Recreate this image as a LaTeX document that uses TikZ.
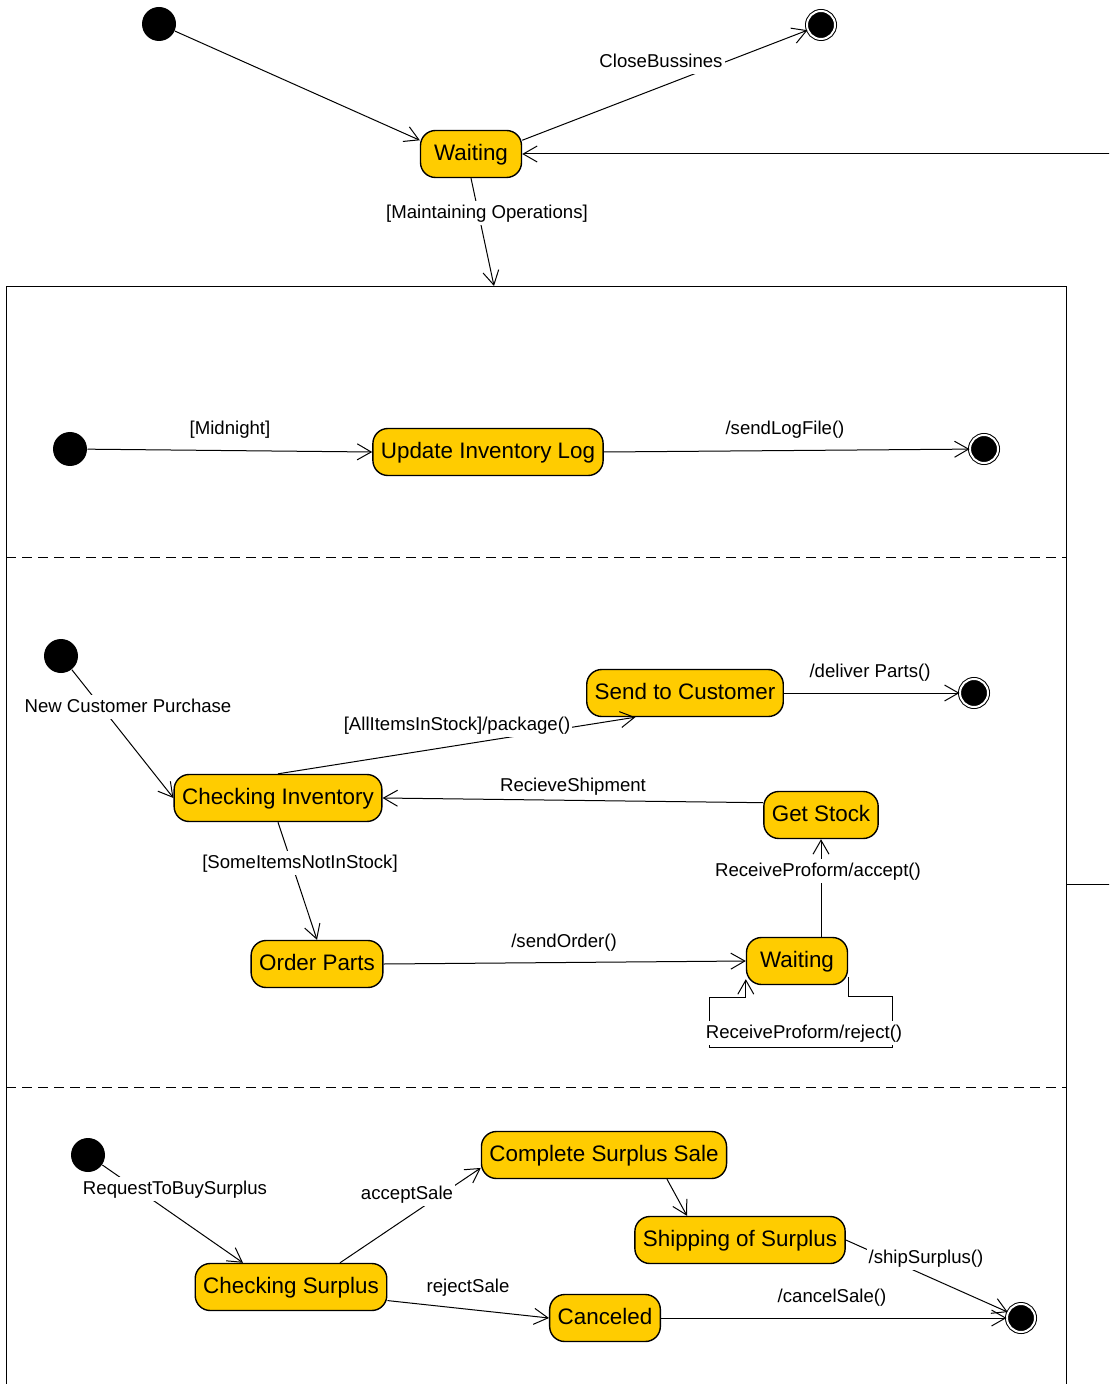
\documentclass[tikz,border=0pt]{standalone}
\usepackage{fontspec}
\setmainfont{Liberation Sans}
\usetikzlibrary{arrows.meta}
\definecolor{stateyellow}{RGB}{255,204,0}

\begin{document}
\begin{tikzpicture}[x=0.5pt,y=-0.5pt,>={Straight Barb[length=7pt,width=8pt]},
                    line width=0.5pt]
  \tikzstyle{stbox}=[draw=black,fill=stateyellow,rounded corners=7.5pt,line width=0.7pt,
                     minimum width=50.5pt,minimum height=23.5pt,inner xsep=4pt,
                     text height=.7em,text depth=.02em,
                     font=\fontsize{11.2}{13}\selectfont]
  \tikzstyle{startdot}=[circle,fill=black,minimum size=17pt,inner sep=0pt]
  \tikzstyle{enddot}=[circle,draw=black,fill=black,double=white,double distance=1pt,
                      minimum size=14pt,inner sep=0pt]
  \tikzstyle{lbl}=[fill=white,inner sep=1pt,text height=1.5ex,text depth=.4ex,yshift=-1pt,
                   font=\fontsize{9.3}{11}\selectfont]
  \tikzstyle{tr}=[->]

  \clip (0,0) rectangle (1109,1384);

  % composite state and its regions
  \node[draw=black,line width=0.7pt,anchor=north west,minimum width=530pt,
        minimum height=570pt,inner sep=0pt] (cbox) at (6,286) {};
  \draw[dash pattern=on 5pt off 3pt] (6,557)  -- (1066,557);
  \draw[dash pattern=on 5pt off 3pt] (6,1087) -- (1066,1087);
  \coordinate (cin)   at (494,286);
  \coordinate (cexit) at (1066,884);

  % top level
  \node[startdot]       (init0)     at (159,24)     {};
  \node[enddot]         (fin0)      at (821,25)     {};
  \node[stbox]          (waitTop)   at (471,154)    {Waiting};

  % region 1
  \node[startdot]       (init1)     at (70,449)     {};
  \node[stbox]          (updLog)    at (488,452)    {Update Inventory Log};
  \node[enddot]         (fin1)      at (984,449)    {};

  % region 2
  \node[startdot]       (init2)     at (61,656)     {};
  \node[stbox]          (chkInv)    at (278,798)    {Checking Inventory};
  \node[stbox]          (sendCust)  at (685,693)    {Send to Customer};
  \node[enddot]         (fin2)      at (974,693)    {};
  \node[stbox]          (getStock)  at (821,815)    {Get Stock};
  \node[stbox]          (orderParts) at (317,964)   {Order Parts};
  \node[stbox]          (waitOrd)   at (797,961)    {Waiting};
  \coordinate           (loopA)     at (892,996);
  \coordinate           (loopB)     at (709,1047);

  % region 3
  \node[startdot]       (init3)     at (88,1155)    {};
  \node[stbox]          (chkSur)    at (291,1287)   {Checking Surplus};
  \node[stbox]          (complSale) at (604,1155)   {Complete Surplus Sale};
  \node[stbox]          (shipSur)   at (740,1240)   {Shipping of Surplus};
  \node[stbox]          (canceled)  at (605,1318)   {Canceled};
  \node[enddot]         (fin3)      at (1021,1318)  {};

  \path (init0)   edge[tr] (waitTop.165)
        (waitTop.15) edge[tr] (fin0)
        (waitTop.south) edge[tr] (cin)
        (init1)   edge[tr] (updLog.west)
        (updLog.east) edge[tr] (fin1)
        (init2)   edge[tr] (chkInv.west)
        (chkInv.north) edge[tr] (sendCust.206)
        (sendCust.east) edge[tr] (fin2)
        (getStock.168) edge[tr] (chkInv.east)
        (chkInv.south) edge[tr] (orderParts.north)
        (orderParts.east) edge[tr] (waitOrd.west)
        (getStock.south |- waitOrd.north) edge[tr] (getStock.south)
        (init3)   edge[tr] ([xshift=-24pt]chkSur.north)
        ([xshift=24.5pt]chkSur.north) edge[tr] (complSale.186)
        ([xshift=31.5pt]complSale.south) edge[tr] ([xshift=-26.5pt]shipSur.north)
        (shipSur.east) edge[tr] (fin3)
        (chkSur.-8) edge[tr] (canceled.west)
        (canceled.east) edge[tr] (fin3);
  \draw[tr] (cexit) -- (1140,884) |- (waitTop.east);
  \draw[tr] ([yshift=4pt]waitOrd.south east) |- (loopA) |- (loopB)
            |- ([yshift=-6pt]waitOrd.south west) -- ([yshift=3pt]waitOrd.south west);

  % transition labels
  \node[lbl] (lClose) at (661,60)    {CloseBussines};
  \node[lbl] (lMaint) at (487,211)   {[Maintaining Operations]};
  \node[lbl] (lMid)   at (230,427)   {[Midnight]};
  \node[lbl] (lLog)   at (785,427)   {/sendLogFile()};
  \node[lbl] (lNew)   at (128,705)   {New Customer Purchase};
  \node[lbl] (lAll)   at (457,723)   {[AllItemsInStock]/package()};
  \node[lbl] (lDeliv) at (870,670)   {/deliver Parts()};
  \node[lbl] (lShipm) at (573,784)   {RecieveShipment};
  \node[lbl] (lSome)  at (300,861)   {[SomeItemsNotInStock]};
  \node[lbl] (lAccept) at (818,869)  {ReceiveProform/accept()};
  \node[lbl] (lOrder) at (564,940)   {/sendOrder()};
  \node[lbl] (lReject) at (804,1031) {ReceiveProform/reject()};
  \node[lbl] (lReq)   at (175,1187)  {RequestToBuySurplus};
  \node[lbl] (lAccS)  at (407,1192)  {acceptSale};
  \node[lbl] (lRejS)  at (468,1285)  {rejectSale};
  \node[lbl] (lShip)  at (926,1256)  {/shipSurplus()};
  \node[lbl] (lCancel) at (832,1295) {/cancelSale()};
\end{tikzpicture}
\end{document}
